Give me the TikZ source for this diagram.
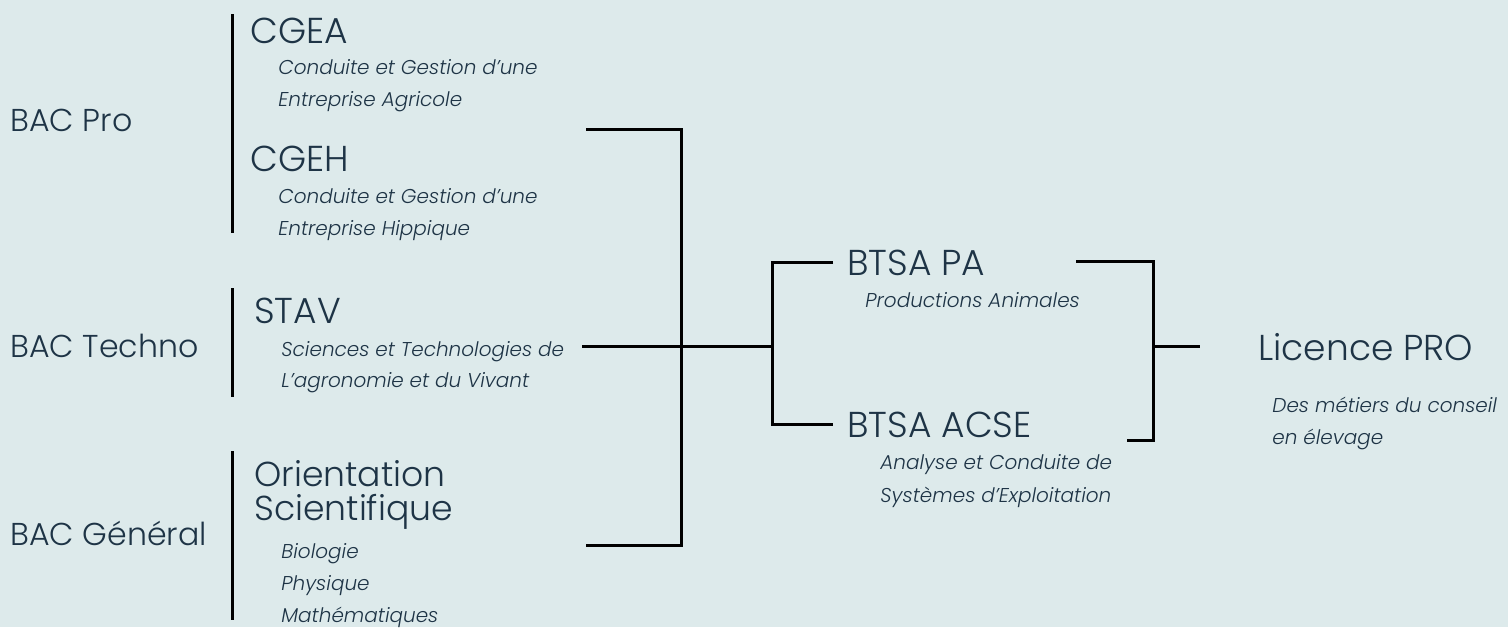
\documentclass[tikz,border=0pt]{standalone}
\usepackage{fontspec}
\setmainfont{Poppins}[UprightFont={* Light},ItalicFont={* Light Italic}]
\definecolor{bg}{HTML}{DDEAEB}
\definecolor{ink}{HTML}{1E3446}
\begin{document}
\begin{tikzpicture}[x=0.5pt,y=-0.5pt,
  head/.style={anchor=base west, inner sep=0pt, text=ink, font=\fontsize{18}{16}\selectfont},
  big/.style={anchor=base west, inner sep=0pt, text=ink, font=\fontsize{15.8}{20}\selectfont},
  sub/.style={anchor=base west, inner sep=0pt, text=ink, font=\fontsize{10}{12}\selectfont\itshape},
  ln/.style={line width=1.5pt, black, line join=miter}]
\fill[bg] (0,0) rectangle (1508,627);
\useasboundingbox (0,0) rectangle (1508,627);
% left column
\node[big] (bacpro) at (10,131) {BAC Pro};
\node[big] (bactech) at (10,357) {BAC Techno};
\node[big] (bacgen) at (10,545) {BAC Général};
% bars
\coordinate (b1t) at (232,14); \coordinate (b1b) at (232,233);
\coordinate (b2t) at (232,288); \coordinate (b2b) at (232,397);
\coordinate (b3t) at (232,451); \coordinate (b3b) at (232,620);
\draw[ln] (b1t) -- (b1b);
\draw[ln] (b2t) -- (b2b);
\draw[ln] (b3t) -- (b3b);
% second column
\node[head] (cgea) at (250,43) {CGEA};
\node[sub] (cgea1) at (278,74) {Conduite et Gestion d'une};
\node[sub] (cgea2) at (278,106) {Entreprise Agricole};
\node[head] (cgeh) at (250,171) {CGEH};
\node[sub] (cgeh1) at (278,203) {Conduite et Gestion d'une};
\node[sub] (cgeh2) at (278,235) {Entreprise Hippique};
\node[head] (stav) at (254,323) {STAV};
\node[sub] (stav1) at (281,356) {Sciences et Technologies de};
\node[sub] (stav2) at (281,387) {L'agronomie et du Vivant};
\node[head, align=left, font=\fontsize{17.3}{17}\selectfont] (ori) at (254,520) {Orientation\\Scientifique};
\node[sub] (bio) at (281,558) {Biologie};
\node[sub] (phy) at (281,590) {Physique};
\node[sub] (mat) at (281,622) {Mathématiques};
% first bracket
\coordinate (k1a) at (586,129); \coordinate (k1b) at (681,129);
\coordinate (k1c) at (681,545); \coordinate (k1d) at (586,545);
\coordinate (k1m) at (582,346); \coordinate (k1j) at (681,346);
\coordinate (k2j) at (772,346);
\coordinate (k2a) at (833,262); \coordinate (k2b) at (772,262);
\coordinate (k2c) at (772,424); \coordinate (k2d) at (833,424);
\draw[ln] (k1a) -- (k1b) -- (k1c) -- (k1d);
\draw[ln] (k1m) -- (k1j) -- (k2j);
\draw[ln] (k2a) -- (k2b) -- (k2c) -- (k2d);
% BTSA
\node[head] (pa) at (847,275) {BTSA PA};
\node[sub] (pa1) at (865,307) {Productions Animales};
\node[head] (acse) at (847,437) {BTSA ACSE};
\node[sub] (acse1) at (880,469) {Analyse et Conduite de};
\node[sub] (acse2) at (880,502) {Systèmes d'Exploitation};
% second bracket
\coordinate (r1a) at (1076,261); \coordinate (r1b) at (1153,261);
\coordinate (r1c) at (1153,440); \coordinate (r1d) at (1127,440);
\coordinate (r1j) at (1153,346); \coordinate (r1e) at (1200,346);
\draw[ln] (r1a) -- (r1b) -- (r1c) -- (r1d);
\draw[ln] (r1j) -- (r1e);
% licence
\node[head] (lic) at (1258,360) {Licence PRO};
\node[sub] (lic1) at (1272,412) {Des métiers du conseil};
\node[sub] (lic2) at (1272,444) {en élevage};
\end{tikzpicture}
\end{document}
